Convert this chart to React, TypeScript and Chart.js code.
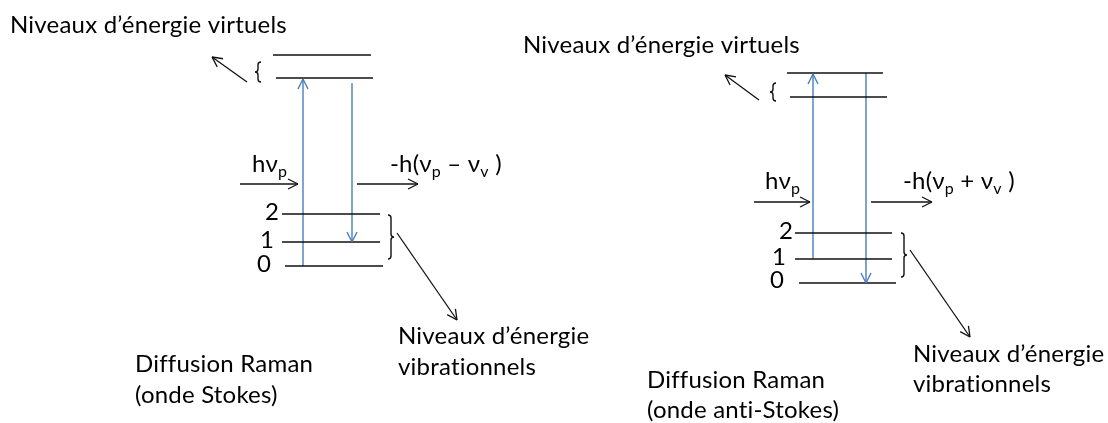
import React, { useEffect, useRef } from "react";
import { Chart, registerables } from "chart.js";

Chart.register(...registerables);

// ---- Diagram values (pixel-space data units: x 0..1108, y 0..423 top-down) ----
// Virtual energy levels: [x1, x2, y]
const virtualLevels = [
  [273, 371, 55], [276, 373, 78],
  [787, 883, 73], [790, 887, 97],
];
// Vibrational energy levels: [x1, x2, y]
const vibLevels = [
  [282, 380, 214], [282, 380, 242], [285, 383, 266],
  [795, 892, 233], [795, 892, 259], [799, 896, 283],
];
const vibLabels = ["2", "1", "0", "2", "1", "0"];
const vibLabelPos = [
  [272, 212], [267, 240], [264, 264],
  [786, 231], [779, 257], [777, 280],
];
// Blue transitions: [xStart, yStart, xEnd, yEnd] (arrow at end)
const transitions = [
  [303, 266, 303, 79], [352, 83, 352, 242],
  [813, 259, 813, 74], [866, 73, 866, 283],
];
// Black pointers: [xStart, yStart, xEnd, yEnd] (arrow at end)
const pointers = [
  [240, 184, 298, 184], [357, 184, 418, 184], [247, 82, 212, 57], [397, 233, 457, 320],
  [754, 202, 810, 202], [871, 202, 932, 202], [759, 100, 725, 75], [910, 250, 970, 337],
];
// Braces: [x, yTop, yBottom, side]
const braces = [
  [255, 62, 82, "{"], [388, 215, 259, "}"],
  [770, 83, 101, "{"], [901, 233, 277, "}"],
];
// Plain texts: [text, x, baseline]
const plainTexts = [
  ["Niveaux d’énergie virtuels", 10, 33],
  ["Niveaux d’énergie virtuels", 523, 53],
  ["Niveaux d’énergie", 398, 344],
  ["vibrationnels", 398, 375],
  ["Niveaux d’énergie", 913, 362],
  ["vibrationnels", 913, 392],
  ["Diffusion Raman", 135, 372],
  ["(onde Stokes)", 135, 403],
  ["Diffusion Raman", 647, 388],
  ["(onde anti-Stokes)", 647, 418],
];
// Photon labels with subscripts: segments [text, isSub]
const photonIn = [["hν", false], ["p", true]];
const photonStokes = [["-h(ν", false], ["p", true], [" – ν", false], ["v", true], [" )", false]];
const photonAnti = [["-h(ν", false], ["p", true], [" + ν", false], ["v", true], [" )", false]];
const photonLabels = [
  [photonIn, 252, 172], [photonStokes, 390, 172],
  [photonIn, 765, 189], [photonAnti, 903, 189],
];

const FONT = "Lato, 'Open Sans', 'DejaVu Sans', sans-serif";
const TEXT_SIZE = 24;
const BLACK = "#111111";
const BLUE = "#4A7EBB";

const segDataset = (s: number[], color: string, width: number, arrow: boolean) => ({
  type: "line" as const,
  data: [{ x: s[0], y: s[1] }, { x: s[2], y: s[3] }],
  borderColor: color,
  borderWidth: width,
  pointRadius: 0,
  fill: false,
  tension: 0,
  arrow,
});

const annotationPlugin = {
  id: "diagramAnnotations",
  afterDatasetsDraw(chart: any) {
    const ctx = chart.ctx as any;
    const xs = chart.scales.x;
    const ys = chart.scales.y;
    const px = (v: number) => xs.getPixelForValue(v);
    const py = (v: number) => ys.getPixelForValue(v);
    ctx.save();
    // arrowheads
    chart.data.datasets.forEach((ds: any) => {
      if (!ds.arrow) return;
      const a = ds.data[0], b = ds.data[1];
      const x1 = px(a.x), y1 = py(a.y), x2 = px(b.x), y2 = py(b.y);
      const ang = Math.atan2(y2 - y1, x2 - x1);
      const L = 10, W = 5;
      ctx.strokeStyle = ds.borderColor;
      ctx.lineWidth = ds.borderWidth;
      ctx.beginPath();
      for (const sgn of [-1, 1]) {
        const bx = x2 - L * Math.cos(ang) + sgn * W * Math.sin(ang);
        const by = y2 - L * Math.sin(ang) - sgn * W * Math.cos(ang);
        ctx.moveTo(bx, by);
        ctx.lineTo(x2, y2);
      }
      ctx.stroke();
    });
    // braces
    ctx.strokeStyle = BLACK;
    ctx.lineWidth = 1.4;
    braces.forEach((b: any) => {
      const [bxv, t, btm, side] = b;
      const w = 6;
      const x0 = px(bxv);
      const top = py(t), bot = py(btm), mid = (top + bot) / 2;
      const tip = side === "{" ? x0 : x0 + w;
      const outer = side === "{" ? x0 + w : x0;
      const spine = (tip + outer) / 2;
      const r = 3;
      ctx.beginPath();
      ctx.moveTo(outer, top);
      ctx.quadraticCurveTo(spine, top, spine, top + r);
      ctx.lineTo(spine, mid - r);
      ctx.quadraticCurveTo(spine, mid, tip, mid);
      ctx.quadraticCurveTo(spine, mid, spine, mid + r);
      ctx.lineTo(spine, bot - r);
      ctx.quadraticCurveTo(spine, bot, outer, bot);
      ctx.stroke();
    });
    // texts
    ctx.fillStyle = "#000";
    if ("letterSpacing" in ctx) ctx.letterSpacing = "0.2px";
    ctx.textBaseline = "alphabetic";
    ctx.textAlign = "left";
    ctx.font = `${TEXT_SIZE}px ${FONT}`;
    plainTexts.forEach((t: any) => ctx.fillText(t[0], px(t[1]), py(t[2])));
    // vibrational level numbers
    ctx.textAlign = "center";
    ctx.textBaseline = "middle";
    vibLabels.forEach((lab, i) => ctx.fillText(lab, px(vibLabelPos[i][0]), py(vibLabelPos[i][1])));
    // photon labels with subscripts
    ctx.textAlign = "left";
    ctx.textBaseline = "alphabetic";
    photonLabels.forEach((p: any) => {
      let cx = px(p[1]);
      const base = py(p[2]);
      p[0].forEach((seg: any) => {
        const size = seg[1] ? Math.round(TEXT_SIZE * 0.65) : TEXT_SIZE;
        ctx.font = `${size}px ${FONT}`;
        ctx.fillText(seg[0], cx, base + (seg[1] ? 5 : 0));
        cx += ctx.measureText(seg[0]).width;
      });
    });
    ctx.restore();
  },
};

export default function App() {
  const ref = useRef<HTMLCanvasElement | null>(null);
  useEffect(() => {
    if (!ref.current) return;
    const datasets: any[] = [
      ...virtualLevels.map((l) => segDataset([l[0], l[2], l[1], l[2]], BLACK, 1.5, false)),
      ...vibLevels.map((l) => segDataset([l[0], l[2], l[1], l[2]], BLACK, 1.5, false)),
      ...transitions.map((s) => segDataset(s, BLUE, 1.4, true)),
      ...pointers.map((s) => segDataset(s, BLACK, 1.3, true)),
    ];
    const chart = new Chart(ref.current, {
      type: "scatter",
      data: { datasets },
      options: {
        responsive: false,
        devicePixelRatio: 1,
        animation: false,
        layout: { padding: 0 },
        scales: {
          x: { type: "linear", display: false, min: 0, max: 1108 },
          y: { type: "linear", display: false, min: 0, max: 423, reverse: true },
        },
        plugins: { legend: { display: false }, tooltip: { enabled: false } },
        events: [],
      },
      plugins: [annotationPlugin],
    });
    return () => chart.destroy();
  }, []);
  return (
    <div style={{ position: "fixed", left: 0, top: 0, width: 1108, height: 423, background: "#fff" }}>
      <canvas ref={ref} width={1108} height={423} style={{ display: "block" }} />
    </div>
  );
}
